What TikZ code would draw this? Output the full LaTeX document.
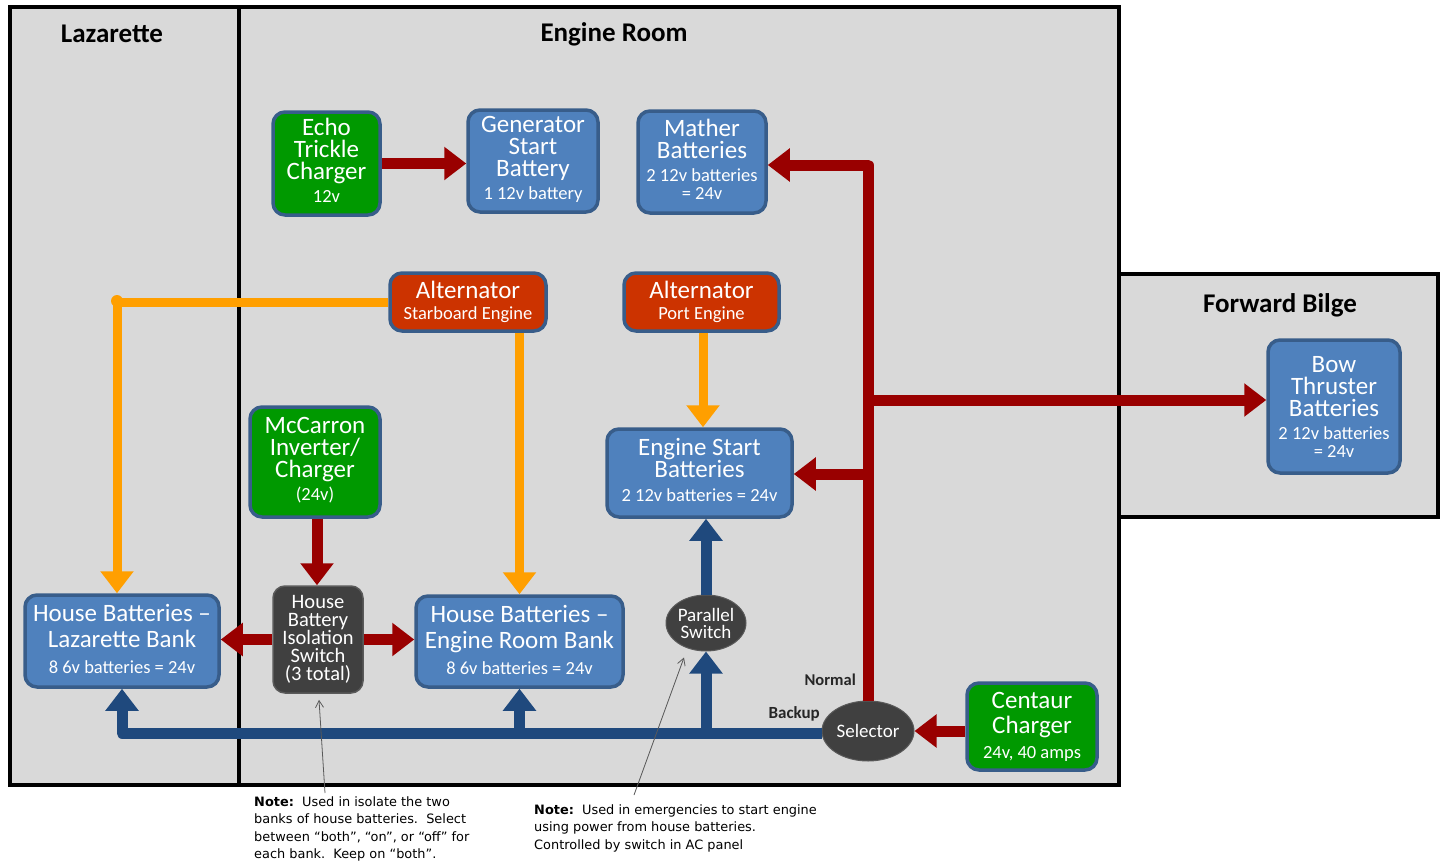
\documentclass[tikz,border=0pt]{standalone}
\usepackage{fontspec}
\setmainfont{Carlito}
\newfontfamily\notefont{DejaVu Sans}
\usetikzlibrary{arrows.meta,shapes.geometric,calc}

\definecolor{areafill}{HTML}{D9D9D9}
\definecolor{boxblue}{HTML}{4F81BD}
\definecolor{boxedge}{HTML}{385D8A}
\definecolor{boxgreen}{HTML}{009900}
\definecolor{boxred}{HTML}{CC3300}
\definecolor{boxgray}{HTML}{404040}
\definecolor{grayedge}{HTML}{5A5A5A}
\definecolor{feedred}{HTML}{990000}
\definecolor{feedorange}{HTML}{FF9F00}
\definecolor{feedblue}{HTML}{1F497D}
\definecolor{notegray}{HTML}{595959}

\newcommand\subln[1]{{\fontsize{18.5}{18}\selectfont #1}}

\tikzset{
  area/.style={fill=areafill, draw=black, line width=3.5},
  areatitle/.style={font=\fontsize{27}{28}\selectfont\bfseries, text=black},
  unit/.style={rectangle, rounded corners=12, draw=boxedge, line width=3.5,
    text=white, align=center, inner sep=0, font=\fontsize{25}{22}\selectfont},
  bluebox/.style={unit, fill=boxblue},
  greenbox/.style={unit, fill=boxgreen},
  redbox/.style={unit, fill=boxred},
  graybox/.style={unit, fill=boxgray, draw=grayedge, line width=1.5,
    font=\fontsize{20.5}{18}\selectfont},
  switchoval/.style={ellipse, fill=boxgray, draw=grayedge, line width=1, text=white,
    align=center, inner sep=0, font=\fontsize{19}{17}\selectfont},
  feed/.style={line width=11, -{Triangle[width=32,length=22]}},
  redfeed/.style={feed, draw=feedred},
  orangefeed/.style={feed, draw=feedorange, line width=9},
  bluefeed/.style={feed, draw=feedblue},
  tag/.style={font=\fontsize{16.5}{18}\selectfont\bfseries, text=black!85, inner sep=0},
  note/.style={font=\notefont\fontsize{12.9}{17.6}\selectfont, align=left, inner sep=0,
    anchor=north west},
  notearrow/.style={draw=notegray, line width=0.8, -{Straight Barb[length=7,width=8]}},
}

\begin{document}
\begin{tikzpicture}[x=1pt, y=-1pt]
\useasboundingbox (0,0) rectangle (1441,862);

% compartments
\draw[area] (1119,274) rectangle (1438,517);
\draw[area] (10,7) rectangle (1119,785);
\draw[line width=3.5] (239,7) -- (239,785);
\node[areatitle] (tLaz) at (112,34) {Lazarette};
\node[areatitle] (tEng) at (614,34) {Engine Room};
\node[areatitle] (tFwd) at (1280,305) {Forward Bilge};

% equipment
\node[greenbox, minimum width=107, minimum height=103] (echo) at (326.5,163.5)
  {Echo\\Trickle\\Charger\\[1pt]\subln{12v}\\[-16pt]};
\node[bluebox, minimum width=130, minimum height=102] (gen) at (533,161)
  {Generator\\Start\\Battery\\[1pt]\subln{1 12v battery}\\[-16pt]};
\node[bluebox, minimum width=128, minimum height=102] (mather) at (702,162)
  {Mather\\Batteries\\[1pt]\subln{2 12v batteries}\\[-4pt]\subln{= 24v}\\[-16pt]};
\node[redbox, minimum width=156, minimum height=58] (altS) at (468,302)
  {Alternator\\[-1pt]\subln{Starboard Engine}};
\node[redbox, minimum width=155, minimum height=58] (altP) at (701.5,302)
  {Alternator\\[-1pt]\subln{Port Engine}};
\node[greenbox, minimum width=130, minimum height=110] (mcc) at (315,462)
  {McCarron\\Inverter/\\Charger\\[1pt]\subln{(24v)}\\[-16pt]};
\node[graybox, minimum width=90, minimum height=107] (iso) at (318,639.5)
  {House\\Battery\\Isolation\\Switch\\(3 total)};
\node[bluebox, minimum width=194, minimum height=92, font=\fontsize{25}{26}\selectfont] (hbL) at (122,641)
  {House Batteries --\\Lazarette Bank\\\subln{8 6v batteries = 24v}\\[-22pt]};
\node[bluebox, minimum width=207, minimum height=91, font=\fontsize{25}{26}\selectfont] (hbE) at (519.5,641.5)
  {House Batteries --\\Engine Room Bank\\\subln{8 6v batteries = 24v}\\[-22pt]};
\node[bluebox, minimum width=185, minimum height=88] (esb) at (699.5,473)
  {Engine Start\\Batteries\\[2pt]\subln{2 12v batteries = 24v}\\[-15pt]};
\node[switchoval, minimum width=80, minimum height=56] (par) at (706,623)
  {Parallel\\Switch};
\node[switchoval, minimum width=92, minimum height=60] (sel) at (868,731)
  {Selector};
\node[greenbox, minimum width=130, minimum height=87, font=\fontsize{25}{25}\selectfont] (cen) at (1032,726.5)
  {Centaur\\Charger\\\subln{24v, 40 amps}};
\node[bluebox, minimum width=132, minimum height=133] (bow) at (1334,406.5)
  {Bow\\Thruster\\Batteries\\[1pt]\subln{2 12v batteries}\\[-4pt]\subln{= 24v}};

% selector outputs
\node[tag, anchor=east] (lNormal) at (856,680) {Normal};
\node[tag, anchor=east, font=\fontsize{17}{18}\selectfont\bfseries] (lBackup) at (820,714) {Backup};

% junction points
\coordinate (jBow) at (868,400);
\coordinate (jEsb) at (868,474);
\coordinate (oCorner) at (117,301);

% 24v charging feeds (red)
\draw[redfeed] (echo.east) -- (echo.east -| gen.west);
\draw[redfeed] (mcc.south -| 317,0) -- (iso.north -| 317,0);
\draw[redfeed] (iso.west) -- (iso.west -| hbL.east);
\draw[redfeed] (iso.east) -- (iso.east -| hbE.west);
\draw[redfeed] (cen.west |- sel.east) -- (sel.east);
\draw[redfeed, line join=round] (sel.north) -- (sel.north |- 0,165) -- (mather.east |- 0,165);
\draw[redfeed] (jBow) -- (jBow -| bow.west);
\draw[redfeed] (jEsb) -- (jEsb -| esb.east);

% alternator feeds (orange)
\draw[orangefeed] (altS.west) -- (altS.west -| oCorner) -- (oCorner |- hbL.north);
\fill[feedorange] (oCorner) circle (6);
\draw[orangefeed] (hbE.north |- altS.south) -- (hbE.north);
\draw[orangefeed] (altP.south -| 703,0) -- (esb.north -| 703,0);

% backup feeds (blue)
\draw[bluefeed, line join=round] (sel.west |- 0,733) -- (hbL.south |- 0,733) -- (hbL.south);
\draw[bluefeed] (hbE.south |- 0,733) -- (hbE.south);
\draw[bluefeed] (par.south |- 0,733) -- (par.south);
\draw[bluefeed] (par.north) -- (par.north |- esb.south);

% notes
\node[note] (note1) at (254,796)
  {\textbf{Note:}\ \ Used in isolate the two\\banks of house batteries.\ \ Select\\between “both”, “on”, or “off” for\\each bank.\ \ Keep on “both”.};
\node[note] (note2) at (534,804)
  {\textbf{Note:}\ \ Used in emergencies to start engine\\using power from house batteries.\\Controlled by switch in AC panel};
\draw[notearrow] ($(note1.north west)+(71,-3)$) -- ($(iso.south)+(1,6)$);
\draw[notearrow] ($(note2.north west)+(100,-9)$) -- ($(par.south)+(-22,6)$);
\end{tikzpicture}
\end{document}
